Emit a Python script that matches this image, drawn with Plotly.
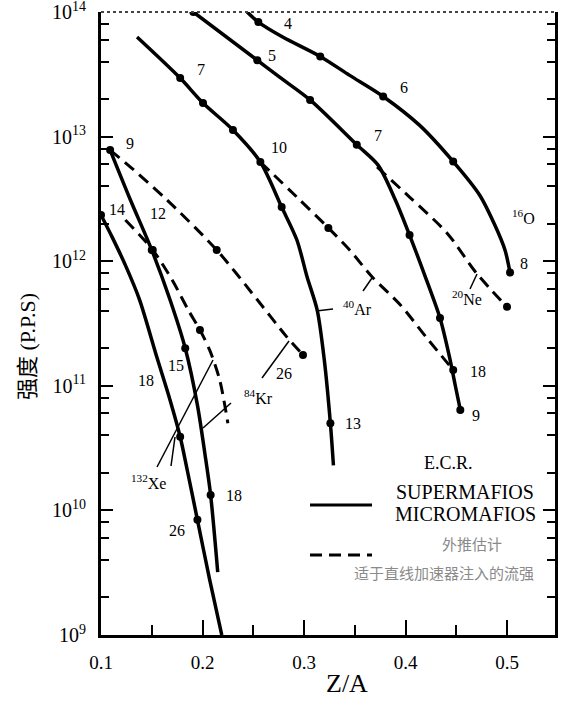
import plotly.graph_objects as go

# ---------------- data: Z/A vs beam intensity (particles per second) ----------------
# 16O  (ECR, solid)
o_za = [0.244, 0.255, 0.279, 0.316, 0.345, 0.378, 0.414, 0.447, 0.473, 0.488, 0.498, 0.503]
o_i = [1.0e14, 8.3e13, 6.3e13, 4.4e13, 3.1e13, 2.1e13, 1.23e13, 6.3e12, 3.4e12, 1.95e12, 1.23e12, 8.1e11]
o_mk_za = [0.255, 0.316, 0.378, 0.447, 0.503]
o_mk_i = [8.3e13, 4.4e13, 2.1e13, 6.3e12, 8.1e11]

# 20Ne (ECR, solid)
ne_za = [0.191, 0.254, 0.276, 0.306, 0.352, 0.373, 0.390, 0.404, 0.419, 0.434, 0.444, 0.449, 0.454]
ne_i = [1.0e14, 4.1e13, 3.0e13, 1.97e13, 8.6e12, 5.9e12, 3.1e12, 1.62e12, 7.7e11, 3.5e11, 1.61e11, 1.01e11, 6.4e10]
ne_mk_za = [0.191, 0.254, 0.306, 0.352, 0.404, 0.434, 0.454]
ne_mk_i = [1.0e14, 4.1e13, 1.97e13, 8.6e12, 1.62e12, 3.5e11, 6.4e10]
# 20Ne (dashed)
ne_d_za = [0.372, 0.404, 0.441, 0.470, 0.500]
ne_d_i = [5.7e12, 3.27e12, 1.68e12, 8.0e11, 4.3e11]
ne_d_mk_za = [0.500]
ne_d_mk_i = [4.3e11]

# 40Ar (ECR, solid)
ar_za = [0.1355, 0.178, 0.2005, 0.230, 0.257, 0.278, 0.293, 0.303, 0.313, 0.320, 0.326, 0.329]
ar_i = [6.3e13, 2.95e13, 1.86e13, 1.13e13, 6.25e12, 2.72e12, 1.48e12, 7.5e11, 4.05e11, 1.61e11, 5.0e10, 2.3e10]
ar_mk_za = [0.178, 0.2005, 0.230, 0.257, 0.278, 0.326]
ar_mk_i = [2.95e13, 1.86e13, 1.13e13, 6.25e12, 2.72e12, 5.0e10]
# 40Ar (dashed)
ar_d_za = [0.257, 0.293, 0.324, 0.345, 0.367, 0.395, 0.421, 0.447]
ar_d_i = [6.25e12, 3.27e12, 1.85e12, 1.23e12, 7.5e11, 4.45e11, 2.42e11, 1.34e11]
ar_d_mk_za = [0.324, 0.447]
ar_d_mk_i = [1.85e12, 1.34e11]

# 84Kr (ECR, solid)
kr_za = [0.109, 0.129, 0.150, 0.168, 0.183, 0.195, 0.2025, 0.208, 0.215]
kr_i = [7.8e12, 3.1e12, 1.23e12, 4.9e11, 2.0e11, 7.0e10, 2.8e10, 1.33e10, 3.2e9]
kr_mk_za = [0.109, 0.150, 0.183, 0.208]
kr_mk_i = [7.8e12, 1.23e12, 2.0e11, 1.33e10]
# 84Kr (dashed)
kr_d_za = [0.109, 0.129, 0.165, 0.214, 0.254, 0.283, 0.299]
kr_d_i = [7.8e12, 5.7e12, 3.1e12, 1.23e12, 4.9e11, 2.47e11, 1.77e11]
kr_d_mk_za = [0.214, 0.299]
kr_d_mk_i = [1.23e12, 1.77e11]

# 132Xe (ECR, solid)
xe_za = [0.100, 0.111, 0.124, 0.138, 0.155, 0.168, 0.178, 0.185, 0.195, 0.207, 0.219]
xe_i = [2.35e12, 1.56e12, 9.3e11, 4.9e11, 1.70e11, 7.7e10, 3.9e10, 2.1e10, 8.4e9, 2.8e9, 1.0e9]
xe_mk_za = [0.100, 0.178, 0.195]
xe_mk_i = [2.35e12, 3.9e10, 8.4e9]
# 132Xe (dashed)
xe_d_za = [0.124, 0.151, 0.170, 0.186, 0.1975, 0.207, 0.217, 0.225]
xe_d_i = [2.14e12, 1.23e12, 7.1e11, 4.05e11, 2.8e11, 1.94e11, 1.11e11, 5.0e10]
xe_d_mk_za = [0.151, 0.1975]
xe_d_mk_i = [1.23e12, 2.8e11]

x_tick_vals = [0.1, 0.2, 0.3, 0.4, 0.5]
x_tick_text = ["0.1", "0.2", "0.3", "0.4", "0.5"]
x_minor_vals = [0.15, 0.25, 0.35, 0.45]
y_tick_vals = [1e9, 1e10, 1e11, 1e12, 1e13, 1e14]
y_tick_text = ["10<sup>9</sup>", "10<sup>10</sup>", "10<sup>11</sup>", "10<sup>12</sup>",
               "10<sup>13</sup>", "10<sup>14</sup>"]
y_minor_vals = [m * 10 ** d for d in range(9, 14) for m in (2, 4, 6, 8)]

# ---------------- figure ----------------
W, H = 561, 707
L, R, T, B = 101, 6, 12, 72
PW, PH = W - L - R, H - T - B
SERIF = "Liberation Serif, Times New Roman, serif"
CJK = "Noto Sans CJK SC"


def P(px, py):
    """pixel position in the figure -> paper coordinates"""
    return (px - L) / PW, (H - B - py) / PH


fig = go.Figure()

solid = [(o_za, o_i, o_mk_za, o_mk_i), (ne_za, ne_i, ne_mk_za, ne_mk_i),
         (ar_za, ar_i, ar_mk_za, ar_mk_i), (kr_za, kr_i, kr_mk_za, kr_mk_i),
         (xe_za, xe_i, xe_mk_za, xe_mk_i)]
dashed = [(ne_d_za, ne_d_i, ne_d_mk_za, ne_d_mk_i), (ar_d_za, ar_d_i, ar_d_mk_za, ar_d_mk_i),
          (kr_d_za, kr_d_i, kr_d_mk_za, kr_d_mk_i), (xe_d_za, xe_d_i, xe_d_mk_za, xe_d_mk_i)]

for xs, ys, mx, my in solid:
    fig.add_trace(go.Scatter(x=xs, y=ys, mode="lines",
                             line=dict(color="black", width=3.5, shape="spline", smoothing=0.8),
                             showlegend=False, hoverinfo="skip"))
    fig.add_trace(go.Scatter(x=mx, y=my, mode="markers",
                             marker=dict(color="black", size=8), showlegend=False))
for xs, ys, mx, my in dashed:
    fig.add_trace(go.Scatter(x=xs, y=ys, mode="lines",
                             line=dict(color="black", width=3, dash="12px,7px",
                                       shape="spline", smoothing=0.8),
                             showlegend=False, hoverinfo="skip"))
    fig.add_trace(go.Scatter(x=mx, y=my, mode="markers",
                             marker=dict(color="black", size=8), showlegend=False))

annotations = []


def add_text(txt, px, py, family, size, color="black", angle=0):
    xp, yp = P(px, py)
    annotations.append(dict(text=txt, x=xp, y=yp, xref="paper", yref="paper",
                            xanchor="center", yanchor="middle", showarrow=False,
                            textangle=angle, font=dict(family=family, size=size, color=color)))


# curve labels
labels = [("4", 288, 24), ("5", 272, 55), ("6", 404, 88), ("7", 378, 135),
          ("<sup>16</sup>O", 523, 217), ("8", 524, 263), ("<sup>20</sup>Ne", 467, 298),
          ("<sup>40</sup>Ar", 357, 308), ("18", 478, 372), ("9", 476, 415), ("13", 353, 423),
          ("7", 201, 70), ("10", 279, 147), ("9", 130, 143), ("14", 117, 210),
          ("12", 158, 213), ("15", 176, 365), ("18", 146, 380), ("<sup>84</sup>Kr", 258, 397),
          ("26", 284, 373), ("<sup>132</sup>Xe", 148, 482), ("18", 234, 495), ("26", 177, 530)]
for txt, px, py in labels:
    add_text(txt, px, py, SERIF, 16)

# legend texts
add_text("E.C.R.", 448, 463, SERIF, 18)
add_text("SUPERMAFIOS", 465, 492, SERIF, 20)
add_text("MICROMAFIOS", 465, 514, SERIF, 20)
add_text("外推估计", 472, 543, CJK, 15, "#8a8a8a")
add_text("适于直线加速器注入的流强", 444, 572, CJK, 15, "#8a8a8a")

# axis titles
add_text("Z/A", 347, 683, SERIF, 26)
add_text("强度 (P.P.S)", 27, 347, SERIF + ", " + CJK, 22, angle=-90)

shapes = []
# pointer lines from element labels to curves
pointers = [((316, 311), (333, 309)), ((363, 291), (372, 278)), ((470, 289), (477, 274)),
            ((231, 403), (203, 428)), ((262, 378), (289, 341)), ((157, 467), (213, 360)),
            ((171, 466), (175, 437))]
for (a, b) in pointers:
    x0, y0 = P(*a)
    x1, y1 = P(*b)
    shapes.append(dict(type="line", xref="paper", yref="paper", x0=x0, y0=y0, x1=x1, y1=y1,
                       line=dict(color="black", width=1.5)))
# legend line samples
for py, dash in ((505, "solid"), (555, "12px,7px")):
    x0, y0 = P(310, py)
    x1, y1 = P(372, py)
    shapes.append(dict(type="line", xref="paper", yref="paper", x0=x0, y0=y0, x1=x1, y1=y1,
                       line=dict(color="black", width=3, dash=dash)))
# top frame
shapes.append(dict(type="line", xref="paper", yref="paper", x0=0, y0=1, x1=1, y1=1,
                   line=dict(color="#444", width=2, dash="dot")))

fig.update_layout(
    width=W, height=H,
    margin=dict(l=L, r=R, t=T, b=B, pad=0, autoexpand=False),
    paper_bgcolor="white", plot_bgcolor="white",
    showlegend=False,
    annotations=annotations,
    shapes=shapes,
    xaxis=dict(range=[0.1, 0.1 + PW / 1015], tickvals=x_tick_vals, ticktext=x_tick_text,
               ticks="inside", ticklen=15, tickwidth=2, tickcolor="black",
               minor=dict(tickvals=x_minor_vals, ticks="inside", ticklen=10, tickwidth=2,
                          tickcolor="black"),
               showline=True, linecolor="black", linewidth=3, mirror=False,
               showgrid=False, zeroline=False, ticklabelstandoff=8, automargin=False,
               ticklabeloverflow="allow",
               tickfont=dict(family=SERIF, size=19, color="black")),
    yaxis=dict(type="log", range=[9, 14], tickvals=y_tick_vals, ticktext=y_tick_text,
               ticks="inside", ticklen=12, tickwidth=2, tickcolor="black",
               minor=dict(tickvals=y_minor_vals, ticks="inside", ticklen=8, tickwidth=2,
                          tickcolor="black"),
               showline=True, linecolor="black", linewidth=3, mirror="ticks",
               showgrid=False, zeroline=False, ticklabelstandoff=8, automargin=False,
               ticklabeloverflow="allow",
               tickfont=dict(family=SERIF, size=20, color="black")),
)

fig.write_html("out.html", config={"displayModeBar": False},
               post_script="document.body.style.margin='0';document.body.style.padding='0';")
